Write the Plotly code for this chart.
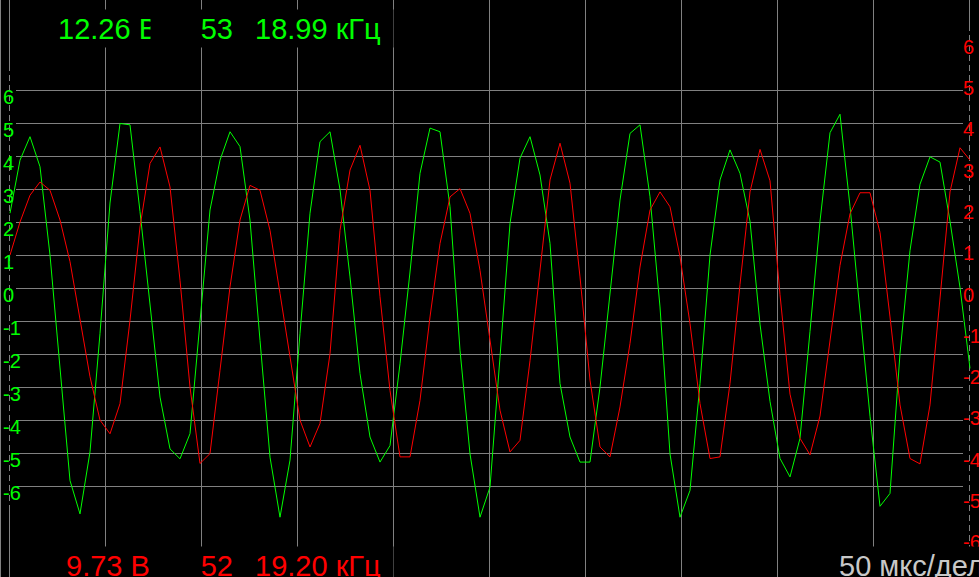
import plotly.graph_objects as go

# ---------------- data ----------------
# channel 1 (green, left scale, volts) and channel 2 (red, right scale, volts)
green = [2.28, 3.89, 4.60, 3.69, 1.01, -2.50, -5.82, -6.83, -4.95, -1.36,
         2.59, 5.00, 4.96, 2.33, -0.56, -3.29, -4.86, -5.16, -4.40, -0.99,
         2.38, 3.89, 4.75, 4.30, 2.07, -1.57, -5.11, -6.93, -5.20, -1.36,
         2.28, 4.45, 4.75, 3.00, 0.35, -2.58, -4.50, -5.26, -4.76, -2.28,
         0.50, 3.49, 4.86, 4.75, 2.48, -1.87, -5.01, -6.93, -6.02, -2.08,
         1.97, 3.95, 4.60, 3.44, 1.37, -2.88, -4.50, -5.26, -5.26, -2.99,
         -0.25, 2.68, 4.70, 4.96, 2.78, -0.56, -5.01, -6.93, -6.12, -2.88,
         1.01, 3.29, 4.20, 3.49, 2.04, -1.08, -3.42, -5.15, -5.71, -4.54,
         -1.30, 2.04, 4.72, 5.28, 2.49, -0.74, -3.87, -6.60, -6.21, -1.97,
         1.15, 3.16, 3.99, 3.83, 2.04, 0.03, -2.42]

red = [0.81, 1.61, 2.26, 2.58, 2.38, 1.66, 0.65, -0.77, -2.14, -3.19,
       -3.52, -2.79, -0.77, 1.49, 3.03, 3.43, 2.46, 0.20, -2.39, -4.24,
       -4.00, -1.98, 0.04, 1.66, 2.50, 2.38, 1.41, -0.12, -1.66, -3.19,
       -3.84, -3.27, -1.58, 1.41, 2.87, 3.47, 2.38, -0.20, -2.47, -4.08,
       -4.08, -2.71, -0.69, 1.09, 2.22, 2.42, 1.82, 0.44, -1.25, -2.95,
       -3.96, -3.68, -1.75, 0.40, 2.63, 3.52, 2.55, 0.28, -2.22, -3.84,
       -4.08, -2.87, -1.33, 0.52, 1.90, 2.34, 1.98, 0.77, -0.85, -2.79,
       -4.12, -4.08, -2.30, 0.10, 2.34, 3.37, 2.61, -0.15, -2.56, -3.63,
       -4.03, -3.09, -1.22, 0.56, 1.81, 2.32, 2.32, 1.36, -0.69, -2.82,
       -4.12, -4.25, -2.82, -0.15, 2.34, 3.41, 3.11]

sample_period_us = 50 / 9.6      # sampling interval (µs)
first_sample_us = 50 / 96        # time of the first sample (µs)
time_us = [first_sample_us + i * sample_period_us for i in range(len(green))]

left_ticks = [6, 5, 4, 3, 2, 1, 0, -1, -2, -3, -4, -5, -6]
left_labels = ["6", "5", "4", "3", "2", "1", "0", "-1", "-2", "-3", "-4", "-5", "-6"]
right_ticks = [6, 5, 4, 3, 2, 1, 0, -1, -2, -3, -4, -5, -6]
right_labels = ["6", "5", "4", "3", "2", "1", "0", "-1", "-2", "-3", "-4", "-5", "-6"]
time_grid_us = [50, 100, 150, 200, 250, 300, 350, 400, 450]

ch1_texts = ["12.26 В", "53", "18.99 кГц"]
ch2_texts = ["9.73 В", "52", "19.20 кГц"]
timebase_text = "50 мкс/дел"

# ---------------- styling / geometry ----------------
W, H = 979, 577
FONT = "Liberation Sans, Arial, sans-serif"
GREEN = "#00ff00"
RED = "#ff0000"
GRID = "#808080"
LIGHT = "#c8c8c8"

X0_PX, DIV_PX, US_PER_DIV = 9, 96, 50
ZERO_PX = 288.5
G_PX_PER_V = 33.0
R_PX_PER_V = 41.27

x_range = [(0 - X0_PX) * US_PER_DIV / DIV_PX, (W - X0_PX) * US_PER_DIV / DIV_PX]
y_range = [-(H - ZERO_PX) / G_PX_PER_V, ZERO_PX / G_PX_PER_V]
y2_range = [-(H - ZERO_PX) / R_PX_PER_V, ZERO_PX / R_PX_PER_V]


def px_x(p):
    return p / W


def px_y(p):
    return 1 - p / H


fig = go.Figure()
fig.add_trace(go.Scatter(x=time_us, y=red, mode="lines", yaxis="y2",
                         line=dict(color=RED, width=1), hoverinfo="skip",
                         showlegend=False))
fig.add_trace(go.Scatter(x=time_us, y=green, mode="lines", yaxis="y",
                         line=dict(color=GREEN, width=1), hoverinfo="skip",
                         showlegend=False))

shapes = []
# horizontal grid (left scale)
for v in left_ticks:
    shapes.append(dict(type="line", xref="paper", yref="y",
                       x0=px_x(16), x1=px_x(963), y0=v, y1=v,
                       line=dict(color=GRID, width=1), layer="below"))
# left border
shapes.append(dict(type="line", xref="paper", yref="paper",
                   x0=px_x(0.5), x1=px_x(0.5), y0=0, y1=1,
                   line=dict(color=GRID, width=1), layer="below"))
# left axis line (solid ends, dashed middle)
lx = px_x(X0_PX + 0.5)
for (a, b, dash) in [(0, 65, "solid"), (65, 505, "6px,4px"), (505, H, "solid")]:
    shapes.append(dict(type="line", xref="paper", yref="paper",
                       x0=lx, x1=lx, y0=px_y(a), y1=px_y(b),
                       line=dict(color=GRID, width=1, dash=dash), layer="below"))
# right axis line
rx = px_x(X0_PX + 10 * DIV_PX + 0.5)
for (a, b, dash) in [(0, 25, "solid"), (25, H, "6px,4px")]:
    shapes.append(dict(type="line", xref="paper", yref="paper",
                       x0=rx, x1=rx, y0=px_y(a), y1=px_y(b),
                       line=dict(color=GRID, width=1, dash=dash), layer="below"))

annotations = []
for v, lab in zip(left_ticks, left_labels):
    annotations.append(dict(text=lab, xref="paper", x=px_x(2), xanchor="left",
                            yref="y", y=v, yanchor="middle", yshift=-6,
                            showarrow=False, borderpad=0,
                            font=dict(family=FONT, size=20, color=GREEN)))
for v, lab in zip(right_ticks, right_labels):
    annotations.append(dict(text=lab, xref="paper", x=px_x(962), xanchor="left",
                            yref="y2", y=v, yanchor="middle", yshift=-6,
                            showarrow=False, borderpad=0,
                            font=dict(family=FONT, size=20, color=RED)))


def box(text, left, right, cy, color, align):
    return dict(text=text, xref="paper", yref="paper", x=px_x(left),
                xanchor="left", y=px_y(cy), yanchor="middle",
                width=right - left, height=37, align=align, valign="middle",
                bgcolor="black", borderpad=0, showarrow=False,
                font=dict(family=FONT, size=29, color=color))


annotations += [
    box(ch1_texts[0], 57, 150, 28.5, GREEN, "left"),
    box(ch1_texts[1], 150, 232, 28.5, GREEN, "right"),
    box(ch1_texts[2], 254, 392, 28.5, GREEN, "left"),
    box(ch2_texts[0], 65, 152, 565.5, RED, "left"),
    box(ch2_texts[1], 152, 232, 565.5, RED, "right"),
    box(ch2_texts[2], 254, 392, 565.5, RED, "left"),
    box(timebase_text, 838, 1010, 565.5, LIGHT, "left"),
]

fig.update_layout(
    width=W, height=H,
    margin=dict(l=0, r=0, t=0, b=0, pad=0),
    paper_bgcolor="black", plot_bgcolor="rgba(0,0,0,0)",
    showlegend=False,
    xaxis=dict(range=x_range, tickvals=time_grid_us, showgrid=True,
               gridcolor=GRID, gridwidth=1, showticklabels=False,
               zeroline=False, showline=False, ticks="", fixedrange=True),
    yaxis=dict(range=y_range, showgrid=False, showticklabels=False,
               zeroline=False, showline=False, ticks="", fixedrange=True),
    yaxis2=dict(range=y2_range, overlaying="y", side="right", showgrid=False,
                showticklabels=False, zeroline=False, showline=False,
                ticks="", fixedrange=True),
    shapes=shapes,
    annotations=annotations,
)

fig.write_html(
    "out.html",
    config={"displayModeBar": False},
    post_script="document.body.style.margin='0';document.body.style.padding='0';"
                "document.body.style.overflow='hidden';"
                "document.body.style.background='black';",
)
